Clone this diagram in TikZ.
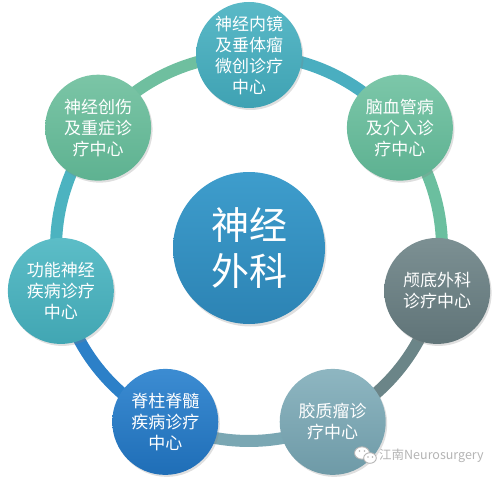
\documentclass[tikz,border=0pt]{standalone}
\usepackage{fontspec}
\newfontfamily\cjk{Noto Sans CJK SC}
\usetikzlibrary{shadows}
\definecolor{ra}{HTML}{4AAEC0}
\definecolor{rb}{HTML}{6BBF9F}
\definecolor{rc}{HTML}{6B8588}
\definecolor{rd}{HTML}{7AA7B3}
\definecolor{re}{HTML}{2C80C8}
\definecolor{rf}{HTML}{4CB3C0}
\definecolor{rg}{HTML}{6FBF9F}
\definecolor{hubT}{HTML}{3E9DCC}
\definecolor{hubB}{HTML}{2C83B4}
\definecolor{aT}{HTML}{5AB9C7}
\definecolor{aB}{HTML}{3FA2B3}
\definecolor{bT}{HTML}{7CC7A9}
\definecolor{bB}{HTML}{5DB191}
\definecolor{cT}{HTML}{7C9093}
\definecolor{cB}{HTML}{607478}
\definecolor{dT}{HTML}{8EB6C1}
\definecolor{dB}{HTML}{6E9AA7}
\definecolor{eT}{HTML}{3C8CD2}
\definecolor{eB}{HTML}{1F6EB7}
\definecolor{fT}{HTML}{5CBDC7}
\definecolor{fB}{HTML}{41A6B3}
\definecolor{gT}{HTML}{7BC5A6}
\definecolor{gB}{HTML}{5EB291}
\definecolor{wmgray}{HTML}{B4B4B4}
\begin{document}
\begin{tikzpicture}[x=1pt,y=1pt,
  sat/.style={circle, minimum size=106pt, inner sep=0pt, align=center, text=white,
    font=\cjk\fontsize{17}{21}\selectfont,
    drop shadow={opacity=0.25, shadow xshift=1.5pt, shadow yshift=-2pt}},
  hub/.style={circle, minimum size=152pt, inner sep=0pt, align=center, text=white,
    font=\cjk\fontsize{38}{46}\selectfont,
    drop shadow={opacity=0.25, shadow xshift=1.5pt, shadow yshift=-2.5pt}},
  ring/.style={line width=12pt}]
\useasboundingbox (0,0) rectangle (500,480);
\begin{scope}[shift={(249,232)}]
  \coordinate (p1) at (90:193);
  \coordinate (p2) at (38.57:193);
  \coordinate (p3) at (-12.86:193);
  \coordinate (p4) at (-64.29:193);
  \coordinate (p5) at (-115.71:193);
  \coordinate (p6) at (-167.14:193);
  \coordinate (p7) at (141.43:193);
  \coordinate (c) at (0,0);
\end{scope}
% ring segments
\draw[ring, draw=ra] (p1) arc[start angle=90, delta angle=-51.43, radius=193pt];
\draw[ring, draw=rb] (p2) arc[start angle=38.57, delta angle=-51.43, radius=193pt];
\draw[ring, draw=rc] (p3) arc[start angle=-12.86, delta angle=-51.43, radius=193pt];
\draw[ring, draw=rd] (p4) arc[start angle=-64.29, delta angle=-51.43, radius=193pt];
\draw[ring, draw=re] (p5) arc[start angle=-115.71, delta angle=-51.43, radius=193pt];
\draw[ring, draw=rf] (p6) arc[start angle=-167.14, delta angle=-51.43, radius=193pt];
\draw[ring, draw=rg] (p7) arc[start angle=141.43, delta angle=-51.43, radius=193pt];
% centre
\node[hub, top color=hubT, bottom color=hubB] (hub) at (c) {神经\\外科};
% satellites
\node[sat, top color=aT, bottom color=aB] (s1) at (p1) {神经内镜\\及垂体瘤\\微创诊疗\\中心};
\node[sat, top color=bT, bottom color=bB] (s2) at (p2) {脑血管病\\及介入诊\\疗中心};
\node[sat, top color=cT, bottom color=cB] (s3) at (p3) {颅底外科\\诊疗中心};
\node[sat, top color=dT, bottom color=dB] (s4) at (p4) {胶质瘤诊\\疗中心};
\node[sat, top color=eT, bottom color=eB] (s5) at (p5) {脊柱脊髓\\疾病诊疗\\中心};
\node[sat, top color=fT, bottom color=fB] (s6) at (p6) {功能神经\\疾病诊疗\\中心};
\node[sat, top color=gT, bottom color=gB] (s7) at (p7) {神经创伤\\及重症诊\\疗中心};
% watermark
\begin{scope}[draw=wmgray, line width=0.9pt, fill=white]
  \filldraw (362,27) ellipse[x radius=7.5pt, y radius=6.2pt];
  \filldraw (370,22) ellipse[x radius=6.3pt, y radius=5.3pt];
  \fill[wmgray] (359.5,29) circle[radius=0.9pt] (364.5,29) circle[radius=0.9pt];
  \fill[wmgray] (368,23) circle[radius=0.8pt] (372.5,23) circle[radius=0.8pt];
\end{scope}
\node[anchor=west, inner sep=0pt, text=wmgray, font=\cjk\fontsize{12.5}{14}\selectfont] (wm) at (379,24) {江南Neurosurgery};
\end{tikzpicture}
\end{document}
